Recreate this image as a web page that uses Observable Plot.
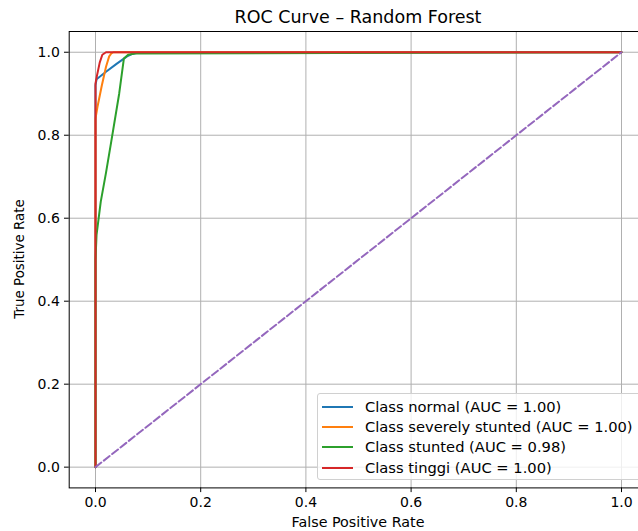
<!DOCTYPE html>
<html>
<head>
<meta charset="utf-8">
<script src="https://cdn.jsdelivr.net/npm/d3@7"></script>
<script src="https://cdn.jsdelivr.net/npm/@observablehq/plot@0.6"></script>
<style>
  html, body { margin: 0; padding: 0; overflow: hidden; background: #fff; }
  body { position: relative; width: 638px; height: 531px; font-family: "DejaVu Sans", sans-serif; color: #000; }
  #title { position: absolute; left: 0; width: 716px; text-align: center; font-size: 17.5px; line-height: 17.5px; top: 8.5px; color: #000; }
  #chart { position: absolute; left: 0; top: 31px; }
  .xlabel { position: absolute; left: 0; width: 716px; text-align: center; top: 514px; font-size: 14.3px; line-height: 16px; }
  .ylabel { position: absolute; left: 20px; top: 259px; font-size: 13.4px; line-height: 16px; white-space: nowrap; transform: translate(-50%, -50%) rotate(-90deg); }
  #legend { position: absolute; left: 317px; top: 393px; width: 330px; height: 87px; box-sizing: border-box;
            border: 1px solid #d0d0d0; border-radius: 3px; background: rgba(255,255,255,0.8); font-size: 14.7px; }
  .item { position: absolute; left: 4px; height: 18px; line-height: 18px; white-space: nowrap; }
  .sw { position: absolute; left: 0; top: 8px; width: 31px; height: 2px; }
  .lt { position: absolute; left: 43px; top: 0; }
</style>
</head>
<body>
<div id="title">ROC Curve – Random Forest</div>
<div id="chart"></div>
<div class="xlabel">False Positive Rate</div>
<div class="ylabel">True Positive Rate</div>
<div id="legend"></div>
<script>
// Class labels, AUCs and colors
const classes = ["normal", "severely stunted", "stunted", "tinggi"];
const aucs = ["1.00", "1.00", "0.98", "1.00"];
const colors = ["#1f77b4", "#ff7f0e", "#2ca02c", "#d62728"];

// ROC points
const fprNormal = [0, 0, 0.002, 0.02, 0.04, 0.06, 0.07, 0.08, 1];
const tprNormal = [0, 0.92, 0.935, 0.953, 0.972, 0.99, 0.996, 0.999, 1];

const fprSevere = [0, 0, 0.004, 0.012, 0.02, 0.026, 0.03, 0.034, 1];
const tprSevere = [0, 0.84, 0.87, 0.92, 0.965, 0.99, 0.997, 1, 1];

const fprStunted = [0, 0, 0.002, 0.01, 0.02, 0.03, 0.045, 0.054, 0.062, 0.075, 1];
const tprStunted = [0, 0.5, 0.56, 0.64, 0.71, 0.785, 0.9, 0.985, 0.994, 0.997, 1];

const fprTinggi = [0, 0, 0.003, 0.008, 0.013, 0.02, 1];
const tprTinggi = [0, 0.925, 0.945, 0.975, 0.994, 1, 1];

const diagX = [0, 1];
const diagY = [0, 1];

const ticks = [0, 0.2, 0.4, 0.6, 0.8, 1.0];

const series = [
  {fpr: fprNormal, tpr: tprNormal},
  {fpr: fprSevere, tpr: tprSevere},
  {fpr: fprStunted, tpr: tprStunted},
  {fpr: fprTinggi, tpr: tprTinggi}
];

const rows = series.flatMap((s, k) => s.fpr.map((f, i) => ({cls: classes[k], fpr: f, tpr: s.tpr[i]})));
const diag = diagX.map((x, i) => ({x, y: diagY[i]}));

const plot = Plot.plot({
  width: 638,
  height: 500,
  marginLeft: 68.7,
  marginRight: -9.3,
  marginTop: 0,
  marginBottom: 43.6,
  style: {fontFamily: "DejaVu Sans, sans-serif", fontSize: "14px", background: "white", overflow: "hidden"},
  x: {domain: [-0.05, 1.05]},
  y: {domain: [-0.05, 1.05]},
  color: {domain: classes, range: colors},
  marks: [
    Plot.gridX(ticks, {stroke: "#b0b0b0", strokeOpacity: 1, strokeWidth: 1}),
    Plot.gridY(ticks, {stroke: "#b0b0b0", strokeOpacity: 1, strokeWidth: 1}),
    ...classes.map(c => Plot.line(rows.filter(d => d.cls === c), {x: "fpr", y: "tpr", stroke: "cls", strokeWidth: 2, curve: "linear"})),
    Plot.line(diag, {x: "x", y: "y", stroke: "#9467bd", strokeWidth: 2, strokeDasharray: "7.4,3.2"}),
    Plot.axisX(ticks, {tickFormat: d3.format(".1f"), tickSize: 4.7, tickPadding: 4.7, label: null, fontSize: 14, stroke: "black", fill: "black"}),
    Plot.axisY(ticks, {tickFormat: d3.format(".1f"), tickSize: 4.7, tickPadding: 4.7, label: null, fontSize: 14, stroke: "black", fill: "black"}),
    Plot.frame({stroke: "black", strokeWidth: 1})
  ]
});
document.getElementById("chart").appendChild(plot);

// Legend
const legend = document.getElementById("legend");
classes.forEach((c, i) => {
  const it = document.createElement("div");
  it.className = "item";
  it.style.top = (3.5 + i * 20.4) + "px";
  const sw = document.createElement("div");
  sw.className = "sw";
  sw.style.background = colors[i];
  const lt = document.createElement("div");
  lt.className = "lt";
  lt.textContent = `Class ${c} (AUC = ${aucs[i]})`;
  it.appendChild(sw);
  it.appendChild(lt);
  legend.appendChild(it);
});
</script>
</body>
</html>
